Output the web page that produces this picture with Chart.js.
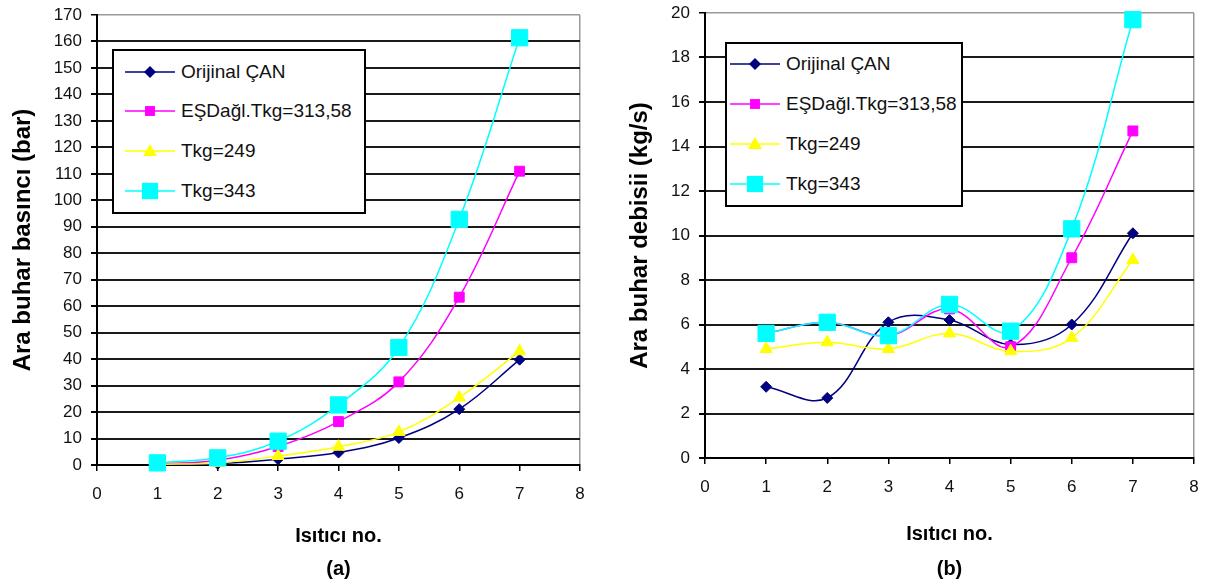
<!DOCTYPE html>
<html>
<head>
<meta charset="utf-8">
<script src="https://cdn.jsdelivr.net/npm/chart.js@4"></script>
<style>
  html, body { margin:0; padding:0; background:#fff; }
  body { width:1214px; height:588px; position:relative; overflow:hidden; font-family:"Liberation Sans", Arial, sans-serif; }
  .wrap { position:absolute; top:0; height:588px; }
  .legend { position:absolute; background:#fff; border:2px solid #000; box-sizing:border-box; }
  .legend .item { position:absolute; left:0; height:24px; display:flex; align-items:center; }
  .legend .item span { font-size:19px; color:#111; white-space:nowrap; margin-left:6px; }
</style>
</head>
<body>
<div class="wrap" style="left:0;width:600px"><canvas id="c1" width="600" height="588"></canvas>
  <div class="legend" id="lg1" style="left:112px;top:49px;width:254px;height:165px"></div></div>
<div class="wrap" style="left:600px;width:614px"><canvas id="c2" width="614" height="588"></canvas>
  <div class="legend" id="lg2" style="left:125px;top:42px;width:238px;height:165px"></div></div>
<script>
// ---- data ----
const heaterNo = [1, 2, 3, 4, 5, 6, 7];
const seriesNames = ['Orijinal ÇAN', 'EŞDağl.Tkg=313,58', 'Tkg=249', 'Tkg=343'];
// (a) Ara buhar basıncı (bar)
const pressOrijinal = [0.2, 0.5, 2.2, 4.7, 10.2, 21.1, 39.8];
const pressEsdagl   = [0.4, 1.8, 7.0, 16.4, 31.4, 63.4, 111.0];
const pressTkg249   = [0.3, 0.8, 3.4, 6.9, 12.5, 25.5, 43.0];
const pressTkg343   = [0.8, 2.7, 9.0, 22.7, 44.4, 92.8, 161.4];
// (b) Ara buhar debisii (kg/s)
const flowOrijinal = [3.2, 2.7, 6.1, 6.2, 5.1, 6.0, 10.1];
const flowEsdagl   = [5.6, 6.1, 5.5, 6.7, 5.0, 9.0, 14.7];
const flowTkg249   = [4.9, 5.2, 4.9, 5.6, 4.8, 5.4, 8.9];
const flowTkg343   = [5.6, 6.1, 5.5, 6.9, 5.7, 10.3, 19.7];
// axes
const xTicksMin = 0, xTicksMax = 8;
const pressTicks = { min: 0, max: 170, step: 10 };
const flowTicks = { min: 0, max: 20, step: 2 };

const styles = [
  { color: '#000080', pointStyle: 'rectRot', radius: 5.5, order: 4 },
  { color: '#FF00FF', pointStyle: 'rect', radius: 7, order: 3 },
  { color: '#FFFF00', pointStyle: 'triangle', radius: 7, order: 2 },
  { color: '#00FFFF', pointStyle: 'rect', radius: 11.5, order: 1 }
];
const FONT = "'Liberation Sans', Arial, sans-serif";

function makeDatasets(seriesList) {
  return seriesList.map((vals, i) => ({
    label: seriesNames[i],
    data: heaterNo.map((x, j) => ({ x: x, y: vals[j] })),
    borderColor: styles[i].color,
    backgroundColor: styles[i].color,
    pointBackgroundColor: styles[i].color,
    pointBorderColor: styles[i].color,
    pointBorderWidth: 1,
    pointStyle: styles[i].pointStyle,
    pointRadius: styles[i].radius,
    borderWidth: 1.5,
    tension: 0.38,
    clip: false,
    order: styles[i].order
  }));
}

function makeChart(id, seriesList, yt, yTitle, yTitlePad, yWidth, xHeight, xTitlePad, topPad, sub) {
  return new Chart(document.getElementById(id), {
    type: 'line',
    data: { datasets: makeDatasets(seriesList) },
    options: {
      responsive: false,
      animation: false,
      events: [],
      layout: { padding: { top: topPad, right: 20, left: 0, bottom: 0 } },
      plugins: {
        legend: { display: false },
        tooltip: { enabled: false },
        title: {
          display: true, position: 'bottom', text: sub, fullSize: false,
          color: '#000', font: { family: FONT, size: 20, weight: 'bold', lineHeight: 1.2 },
          padding: { top: 0, bottom: 7 }
        }
      },
      scales: {
        x: {
          type: 'linear', min: xTicksMin, max: xTicksMax,
          ticks: { stepSize: 1, color: '#111', padding: 13, font: { family: FONT, size: 17 } },
          grid: {
            drawOnChartArea: true, tickLength: 6, lineWidth: 1.5, tickColor: '#000',
            color: (c) => (c.tick && c.tick.value === xTicksMax) ? '#999' : 'rgba(0,0,0,0)'
          },
          border: { display: true, color: '#000', width: 2 },
          title: {
            display: true, text: 'Isıtıcı no.', color: '#000',
            font: { family: FONT, size: 20, weight: 'bold', lineHeight: 1.2 },
            padding: { top: 0, bottom: xTitlePad }
          },
          afterFit: (s) => { s.height = xHeight; }
        },
        y: {
          min: yt.min, max: yt.max,
          ticks: { stepSize: yt.step, color: '#111', padding: 9, font: { family: FONT, size: 17 } },
          grid: {
            tickLength: 6, tickColor: '#000', lineWidth: (c) => (c.tick && c.tick.value === yt.max) ? 1.5 : 2,
            color: (c) => (c.tick && c.tick.value === yt.max) ? '#999' : '#1a1a1a'
          },
          border: { display: true, color: '#000', width: 2 },
          title: {
            display: true, text: yTitle, color: '#000',
            font: { family: FONT, size: 24, weight: 'bold', lineHeight: 1.2 },
            padding: { top: yTitlePad, bottom: 0 }
          },
          afterFit: (s) => { s.width = yWidth; s.paddingTop = 0; s.paddingBottom = 0; }
        }
      }
    }
  });
}

makeChart('c1', [pressOrijinal, pressEsdagl, pressTkg249, pressTkg343], pressTicks,
  'Ara buhar basıncı (bar)', 9, 97, 92, 9, 15, '(a)');
makeChart('c2', [flowOrijinal, flowEsdagl, flowTkg249, flowTkg343], flowTicks,
  'Ara buhar debisii (kg/s)', 26, 105, 99, 11, 13, '(b)');

// ---- legends (HTML, built from series names/styles) ----
function markerSvg(st) {
  const c = st.color, cx = 25, cy = 12;
  let m = '';
  if (st.pointStyle === 'rectRot') m = `<polygon points="${cx},${cy-6} ${cx+6},${cy} ${cx},${cy+6} ${cx-6},${cy}" fill="${c}"/>`;
  else if (st.pointStyle === 'triangle') m = `<polygon points="${cx},${cy-7} ${cx+7},${cy+5} ${cx-7},${cy+5}" fill="${c}"/>`;
  else { const h = st.radius * Math.SQRT1_2; m = `<rect x="${cx-h}" y="${cy-h}" width="${2*h}" height="${2*h}" fill="${c}"/>`; }
  return `<svg width="50" height="24" viewBox="0 0 50 24"><line x1="0" y1="${cy}" x2="50" y2="${cy}" stroke="${c}" stroke-width="1.5"/>${m}</svg>`;
}
function buildLegend(id, left, tops) {
  const el = document.getElementById(id);
  seriesNames.forEach((n, i) => {
    const d = document.createElement('div');
    d.className = 'item';
    d.style.left = left + 'px';
    d.style.top = tops[i] + 'px';
    d.innerHTML = markerSvg(styles[i]) + `<span>${n}</span>`;
    el.appendChild(d);
  });
}
buildLegend('lg1', 11, [9, 48, 88, 128]);
buildLegend('lg2', 3, [8, 48, 88, 128]);
</script>
</body>
</html>
